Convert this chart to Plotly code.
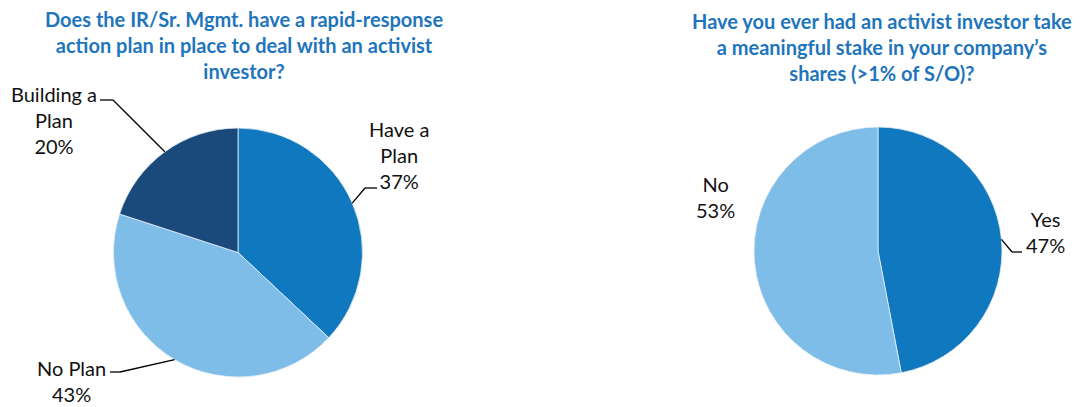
import math
import plotly.graph_objects as go

W, H = 1085, 407
OFF = 8  # page body margin offset in pixels

# ---- data ----
plan_labels = ["Have a Plan", "No Plan", "Building a Plan"]
plan_values = [37, 43, 20]
plan_text = ["Have a<br>Plan<br>37%", "No Plan<br>43%", "Building a<br>Plan<br>20%"]

stake_labels = ["Yes", "No"]
stake_values = [47, 53]
stake_text = ["Yes<br>47%", "No<br>53%"]

title_left = "Does the IR/Sr. Mgmt. have a rapid-response<br>action plan in place to deal with an activist<br>investor?"
title_right = "Have you ever had an activist investor take<br>a meaningful stake in your company\u2019s<br>shares (>1% of S/O)?"

# ---- style ----
MED = "#1078BF"
LIGHT = "#7DBDE8"
DARK = "#1A4A7C"
TITLE_C = "#1F75BC"
FONT = "Lato"

plan_colors = [MED, LIGHT, DARK]
stake_colors = [MED, LIGHT]

# pie geometry in pixels (center x, center y from top, radius)
LC = (238, 252.5, 124.5)
RC = (878, 251, 124)


def px(x):
    return (x - OFF) / W


def py(y):
    return 1 - (y - OFF) / H


def domain(c):
    cx, cy, r = c
    return dict(x=[px(cx - r), px(cx + r)], y=[py(cy + r), py(cy - r)])


def edge_point(c, values, idx):
    cx, cy, r = c
    tot = sum(values)
    mid = (sum(values[:idx]) + values[idx] / 2) / tot * 2 * math.pi
    return cx + r * math.sin(mid), cy - r * math.cos(mid)


fig = go.Figure()
fig.add_trace(go.Pie(labels=plan_labels, values=plan_values, sort=False,
                     direction="clockwise", rotation=0, textinfo="none",
                     marker=dict(colors=plan_colors, line=dict(color="#E8EEF5", width=0.8)),
                     domain=domain(LC), showlegend=False, hoverinfo="label+percent"))
fig.add_trace(go.Pie(labels=stake_labels, values=stake_values, sort=False,
                     direction="clockwise", rotation=0, textinfo="none",
                     marker=dict(colors=stake_colors, line=dict(color="#E8EEF5", width=0.8)),
                     domain=domain(RC), showlegend=False, hoverinfo="label+percent"))

annotations = []
# titles
annotations.append(dict(text="<b>" + title_left + "</b>", x=px(244), y=py(45),
                        xref="paper", yref="paper", showarrow=False,
                        xanchor="center", yanchor="middle",
                        font=dict(family=FONT, size=20, color=TITLE_C)))
annotations.append(dict(text="<b>" + title_right + "</b>", x=px(882), y=py(47),
                        xref="paper", yref="paper", showarrow=False,
                        xanchor="center", yanchor="middle",
                        font=dict(family=FONT, size=20, color=TITLE_C)))

# label placement (pixels): label center, elbow, line end
label_layout = [
    (LC, plan_values, 0, plan_text[0], (399, 155), (365, 188), (377, 188)),
    (LC, plan_values, 1, plan_text[1], (71, 381), (120, 372), (110, 372)),
    (LC, plan_values, 2, plan_text[2], (54, 120), (113, 100), (100, 100)),
    (RC, stake_values, 0, stake_text[0], (1045, 232), (1012, 252), (1022, 252)),
    (RC, stake_values, 1, stake_text[1], (715, 197), None, None),
]

shapes = []
for c, vals, i, txt, lc, elbow, end in label_layout:
    annotations.append(dict(text=txt, x=px(lc[0]), y=py(lc[1]), xref="paper", yref="paper",
                            showarrow=False, xanchor="center", yanchor="middle",
                            font=dict(family=FONT, size=20, color="#111111")))
    if elbow is not None:
        ex, ey = edge_point(c, vals, i)
        shapes.append(dict(type="line", xref="paper", yref="paper",
                           x0=px(ex), y0=py(ey), x1=px(elbow[0]), y1=py(elbow[1]),
                           line=dict(color="black", width=1.3)))
        shapes.append(dict(type="line", xref="paper", yref="paper",
                           x0=px(elbow[0]), y0=py(elbow[1]), x1=px(end[0]), y1=py(end[1]),
                           line=dict(color="black", width=1.3)))

fig.update_layout(width=W, height=H, margin=dict(l=0, r=0, t=0, b=0),
                  paper_bgcolor="white", plot_bgcolor="white",
                  annotations=annotations, shapes=shapes,
                  font=dict(family=FONT))

fig.write_html("out.html")
